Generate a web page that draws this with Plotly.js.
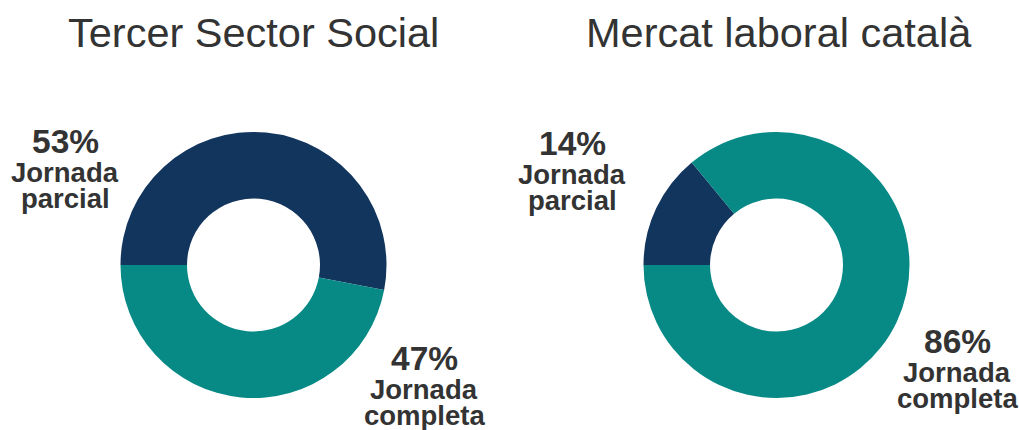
<!DOCTYPE html>
<html>
<head>
<meta charset="utf-8">
<script src="https://cdn.plot.ly/plotly-3.0.1.min.js"></script>
<style>
    html, body { margin: 0; padding: 0; background: #ffffff; }
    #chart { width: 1019px; height: 430px; }
</style>
</head>
<body>
<div id="chart"></div>
<script>
// chart data
const titles = ['Tercer Sector Social', 'Mercat laboral català'];
const categories = ['Jornada parcial', 'Jornada completa'];
const labelLines = [['Jornada', 'parcial'], ['Jornada', 'completa']];
const tercerSector = [53, 47];
const mercatLaboral = [14, 86];
const colors = ['#12355e', '#078985'];

const W = 1019;
const H = 430;
const px = (x) => x / W;
const py = (y) => 1 - y / H;

const textColor = '#333333';
const font = 'Liberation Sans, Arial, sans-serif';
const titleSize = 41.5;
const pctSize = 33.5;
const lineSize = 27.5;

// pie placement in pixels: [left, right, top, bottom]
const pieBoxes = [
    [120.5, 386.5, 132, 398],
    [643.5, 909.5, 132, 398],
];

// label anchor per pie and category: centre x, baseline of the percentage
const labelAnchors = [
    [[65, 153], [424, 370]],
    [[572, 155], [957, 353]],
];

function pieTrace(values, box) {
    return {
        type: 'pie',
        values: values,
        labels: categories,
        marker: { colors: colors, line: { width: 0 } },
        hole: 0.5,
        sort: false,
        direction: 'clockwise',
        rotation: -90,
        textinfo: 'none',
        hoverinfo: 'label+percent',
        showlegend: false,
        domain: {
            x: [px(box[0]), px(box[1])],
            y: [py(box[3]), py(box[2])],
        },
    };
}

const series = [tercerSector, mercatLaboral];
const data = series.map((values, i) => pieTrace(values, pieBoxes[i]));

let annotations = [];

titles.forEach((t, i) => {
    const box = pieBoxes[i];
    annotations.push({
        text: t,
        xref: 'paper', yref: 'paper',
        x: px((box[0] + box[1]) / 2 + (i === 0 ? 0 : 2)), y: py(47 - 0.35 * titleSize),
        xanchor: 'center', yanchor: 'middle',
        showarrow: false,
        font: { family: font, size: titleSize, color: textColor },
    });
});

series.forEach((values, i) => {
    values.forEach((v, j) => {
        const [cx, base] = labelAnchors[i][j];
        annotations.push({
            text: '<b>' + v + '%</b>',
            xref: 'paper', yref: 'paper',
            x: px(cx), y: py(base - 0.35 * pctSize),
            xanchor: 'center', yanchor: 'middle',
            showarrow: false,
            font: { family: font, size: pctSize, color: textColor },
        });
        labelLines[j].forEach((line, k) => {
            const lineBase = base + 29.5 + k * 26;
            annotations.push({
                text: '<b>' + line + '</b>',
                xref: 'paper', yref: 'paper',
                x: px(cx), y: py(lineBase - 0.35 * lineSize),
                xanchor: 'center', yanchor: 'middle',
                showarrow: false,
                font: { family: font, size: lineSize, color: textColor },
            });
        });
    });
});

const layout = {
    width: W,
    height: H,
    margin: { l: 0, r: 0, t: 0, b: 0 },
    paper_bgcolor: '#ffffff',
    plot_bgcolor: '#ffffff',
    font: { family: font, color: textColor },
    showlegend: false,
    annotations: annotations,
};

Plotly.newPlot('chart', data, layout, { staticPlot: true, displayModeBar: false });
</script>
</body>
</html>
